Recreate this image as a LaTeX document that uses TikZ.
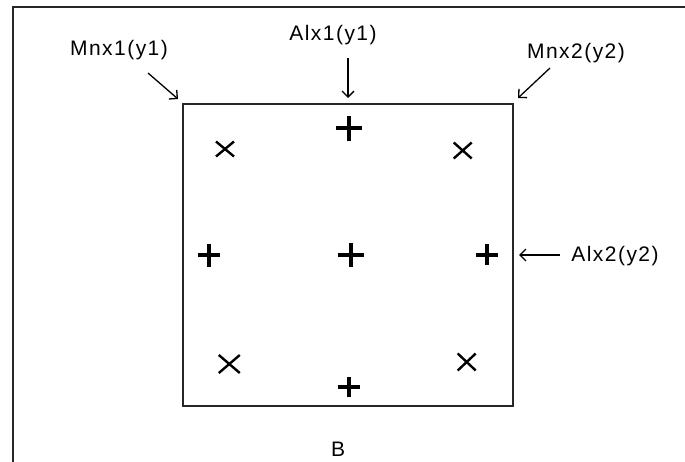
\documentclass[tikz,border=0pt]{standalone}
\usepackage{fontspec}
\setmainfont{Liberation Sans}
\usetikzlibrary{arrows.meta}

\tikzset{
  lbl/.style={font=\fontsize{21}{24}\selectfont\addfontfeature{LetterSpace=7}, inner sep=0pt, anchor=center},
  ptr/.style={line width=1.3pt, -{Straight Barb[length=6pt,width=12pt,line width=1.3pt]}},
  framepen/.style={line width=2pt, black!85},
  plusmark/.style={line width=4pt},
  xmark/.style={line width=2.4pt},
  pics/plusm/.style 2 args={code={\draw[plusmark] (-#1,0) -- (#1,0) (0,-#2) -- (0,#2);}},
  pics/crossm/.style 2 args={code={\draw[xmark] (-#1,-#2) -- (#1,#2) (-#1,#2) -- (#1,-#2);}}
}

\begin{document}
\begin{tikzpicture}[x=1pt,y=-1pt]
\useasboundingbox (0,0) rectangle (685,461);

% outer frame, open towards the right and bottom
\draw[framepen] (13,480) -- (13,7) -- (700,7);

% the plate
\node[draw, line width=2pt, black!85, minimum width=330pt, minimum height=302pt, inner sep=0pt] (plate) at (348,255) {};

% plus marks
\pic at (349,128.3) {plusm={13}{12.5}};
\pic at (351.3,254.7) {plusm={13}{12}};
\pic at (208.5,255.3) {plusm={11}{11.5}};
\pic at (487.2,254.5) {plusm={11}{10.5}};
\pic at (349.2,386.7) {plusm={11}{10}};

% cross marks
\pic at (225,149) {crossm={9}{7.5}};
\pic at (462.7,150.5) {crossm={9}{8}};
\pic at (229.3,364) {crossm={10.5}{9}};
\pic at (466.7,362) {crossm={9}{8.5}};

% labels
\node[lbl] (mnx1) at (119,50.5) {Mnx1(y1)};
\node[lbl] (alx1) at (333,35) {Alx1(y1)};
\node[lbl] (mnx2) at (576,53.5) {Mnx2(y2)};
\node[lbl] (alx2) at (615,256) {Alx2(y2)};
\node[lbl] (bname) at (338,449) {B};

% pointers
\coordinate (p1s) at (148,73);  \coordinate (p1e) at (178,99);
\coordinate (p2s) at (348,58);  \coordinate (p2e) at (348,98);
\coordinate (p3s) at (550,68);  \coordinate (p3e) at (518,98);
\coordinate (p4s) at (560,255); \coordinate (p4e) at (519,255);
\draw[ptr] (p1s) -- (p1e);
\draw[ptr] (p2s) -- (p2e);
\draw[ptr] (p3s) -- (p3e);
\draw[ptr] (p4s) -- (p4e);
\end{tikzpicture}
\end{document}
